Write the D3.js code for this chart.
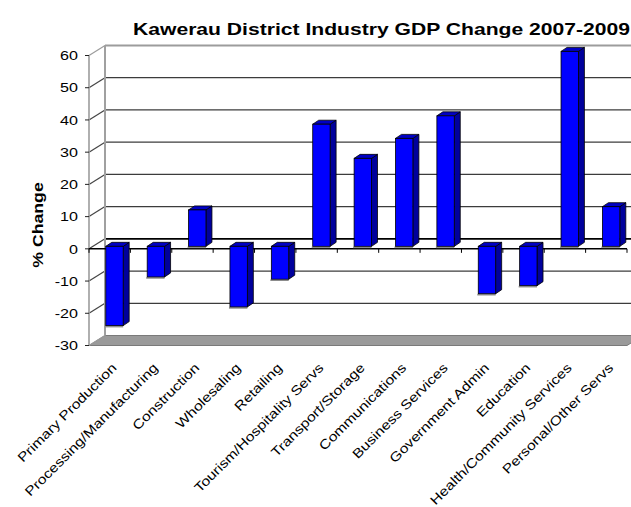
<!DOCTYPE html>
<html>
<head>
<meta charset="utf-8">
<script src="https://cdn.jsdelivr.net/npm/d3@7"></script>
<style>
  html, body { margin: 0; padding: 0; background: #fff; }
  svg { display: block; font-family: "Liberation Sans", Arial, sans-serif; }
</style>
</head>
<body>
<svg id="chart" width="631" height="507"></svg>
<script>
// Industry categories and their % GDP change, 2007-2009
const categories = [
  "Primary Production", "Processing/Manufacturing", "Construction", "Wholesaling",
  "Retailing", "Tourism/Hospitality Servs", "Transport/Storage", "Communications",
  "Business Services", "Government Admin", "Education", "Health/Community Services",
  "Personal/Other Servs"
];
const changePct = [-24.6, -9.5, 11.3, -18.8, -10.2, 37.9, 27.3, 33.5, 40.5, -14.7, -12.2, 60.5, 12.3];
const yTicks = [60, 50, 40, 30, 20, 10, 0, -10, -20, -30];
const titleText = "Kawerau District Industry GDP Change 2007-2009";
const yTitle = "% Change";

const svg = d3.select("#chart");

// 3-D frame: front plane, back wall offset, bar plane inside the box
const wall = { dx: 16, dy: -10 };
const barPlane = { dx: 4.8, dy: -2.5 };
const barDepth = { dx: 6, dy: -4 };
const stretch = 1.24;

const y = d3.scaleLinear().domain([-30, 60]).range([345.5, 55.5]);
const x = d3.scaleBand().domain(categories).range([89, 627]).paddingInner(0.58).paddingOuter(0.29);
const slot = d3.scaleBand().domain(categories).range([89, 627]);

const xL = 89, xR = 627;

// Floor
const yb = y(-30);
svg.append("polygon")
  .attr("points", [[xL, yb], [xL + wall.dx, yb + wall.dy], [xR + wall.dx, yb + wall.dy], [xR, yb]].join(" "))
  .attr("fill", "#9a9a9a").attr("stroke", "#7a7a7a").attr("stroke-width", 1);

// Back wall gridlines
svg.append("g").selectAll("line").data(yTicks.filter(d => d !== -30)).join("line")
  .attr("x1", xL + wall.dx).attr("x2", 640)
  .attr("y1", d => y(d) + wall.dy).attr("y2", d => y(d) + wall.dy)
  .attr("stroke", d => d === 60 ? "#9c9c9c" : d === 0 ? "#000" : "#3c3c3c")
  .attr("stroke-width", d => d === 60 ? 2.2 : d === 0 ? 1.8 : 1.3);

// Side wall lines joining the axis to the back wall
svg.append("g").selectAll("line").data(yTicks).join("line")
  .attr("x1", xL).attr("x2", xL + wall.dx)
  .attr("y1", d => y(d)).attr("y2", d => y(d) + wall.dy)
  .attr("stroke", d => d === 60 || d === -30 ? "#9c9c9c" : "#444").attr("stroke-width", 1.2);

// Back wall left edge and front value axis
svg.append("line").attr("x1", xL + wall.dx).attr("x2", xL + wall.dx)
  .attr("y1", y(60) + wall.dy).attr("y2", y(-30) + wall.dy)
  .attr("stroke", "#a0a0a0").attr("stroke-width", 2);
svg.append("line").attr("x1", xL).attr("x2", xL)
  .attr("y1", y(60)).attr("y2", y(-30))
  .attr("stroke", "#9c9c9c").attr("stroke-width", 1.6);

// Value ticks and labels
svg.append("g").selectAll("line").data(yTicks).join("line")
  .attr("x1", xL - 4).attr("x2", xL).attr("y1", d => y(d)).attr("y2", d => y(d))
  .attr("stroke", "#222").attr("stroke-width", 1);
svg.append("g").selectAll("text").data(yTicks).join("text")
  .attr("transform", d => `translate(78,${y(d)}) scale(${stretch},1)`)
  .attr("dy", "0.36em").attr("text-anchor", "end")
  .attr("font-size", 13).attr("fill", "#000").text(d => d);

// Category axis along the front edge at zero
svg.append("line").attr("x1", xL).attr("x2", xR).attr("y1", y(0)).attr("y2", y(0))
  .attr("stroke", "#000").attr("stroke-width", 1.5);
const bounds = categories.map(c => slot(c)).concat([xR]);
svg.append("g").selectAll("line").data(bounds).join("line")
  .attr("x1", d => d).attr("x2", d => d).attr("y1", y(0)).attr("y2", y(0) + 4)
  .attr("stroke", "#000").attr("stroke-width", 1);

// Bars
const z0 = y(0) + barPlane.dy;
const bars = svg.append("g").selectAll("g").data(categories.map((c, i) => ({ c, v: changePct[i] }))).join("g");
bars.each(function (d) {
  const g = d3.select(this);
  const x0 = x(d.c) + barPlane.dx, w = x.bandwidth();
  const yv = y(d.v) + barPlane.dy;
  const top = Math.min(z0, yv), bot = Math.max(z0, yv);
  // shadow edge under the front face
  g.append("line").attr("x1", x0 - 1).attr("x2", x0 + w).attr("y1", bot + 1).attr("y2", bot + 1)
    .attr("stroke", "#8c8c8c").attr("stroke-width", 1.6);
  // side face
  g.append("polygon")
    .attr("points", [[x0 + w, top], [x0 + w + barDepth.dx, top + barDepth.dy],
      [x0 + w + barDepth.dx, bot + barDepth.dy], [x0 + w, bot]].join(" "))
    .attr("fill", "#00009c").attr("stroke", "#000").attr("stroke-width", 0.8).attr("stroke-linejoin", "round");
  // top face
  g.append("polygon")
    .attr("points", [[x0, top], [x0 + barDepth.dx, top + barDepth.dy],
      [x0 + w + barDepth.dx, top + barDepth.dy], [x0 + w, top]].join(" "))
    .attr("fill", "#0000c4").attr("stroke", "#000").attr("stroke-width", 0.8).attr("stroke-linejoin", "round");
  // front face
  g.append("rect").attr("x", x0).attr("y", top).attr("width", w).attr("height", bot - top)
    .attr("fill", "#0000ff").attr("stroke", "#000").attr("stroke-width", 0.8);
});

// Category labels
svg.append("g").selectAll("text").data(categories).join("text")
  .attr("transform", d => `translate(${slot(d) + slot.bandwidth() / 2 + 1},362) rotate(-45) scale(1.2,1)`)
  .attr("text-anchor", "end").attr("dy", "0.72em")
  .attr("font-size", 13.1).attr("fill", "#000").text(d => d);

// Axis title and chart title
svg.append("text")
  .attr("transform", "translate(43,225) rotate(-90) scale(1.22,1)")
  .attr("text-anchor", "middle").attr("font-size", 14.5).attr("font-weight", "bold")
  .text(yTitle);
svg.append("text")
  .attr("x", 133).attr("y", 35)
  .attr("font-size", 17).attr("font-weight", "bold")
  .attr("textLength", 497).attr("lengthAdjust", "spacingAndGlyphs")
  .text(titleText);
</script>
</body>
</html>
